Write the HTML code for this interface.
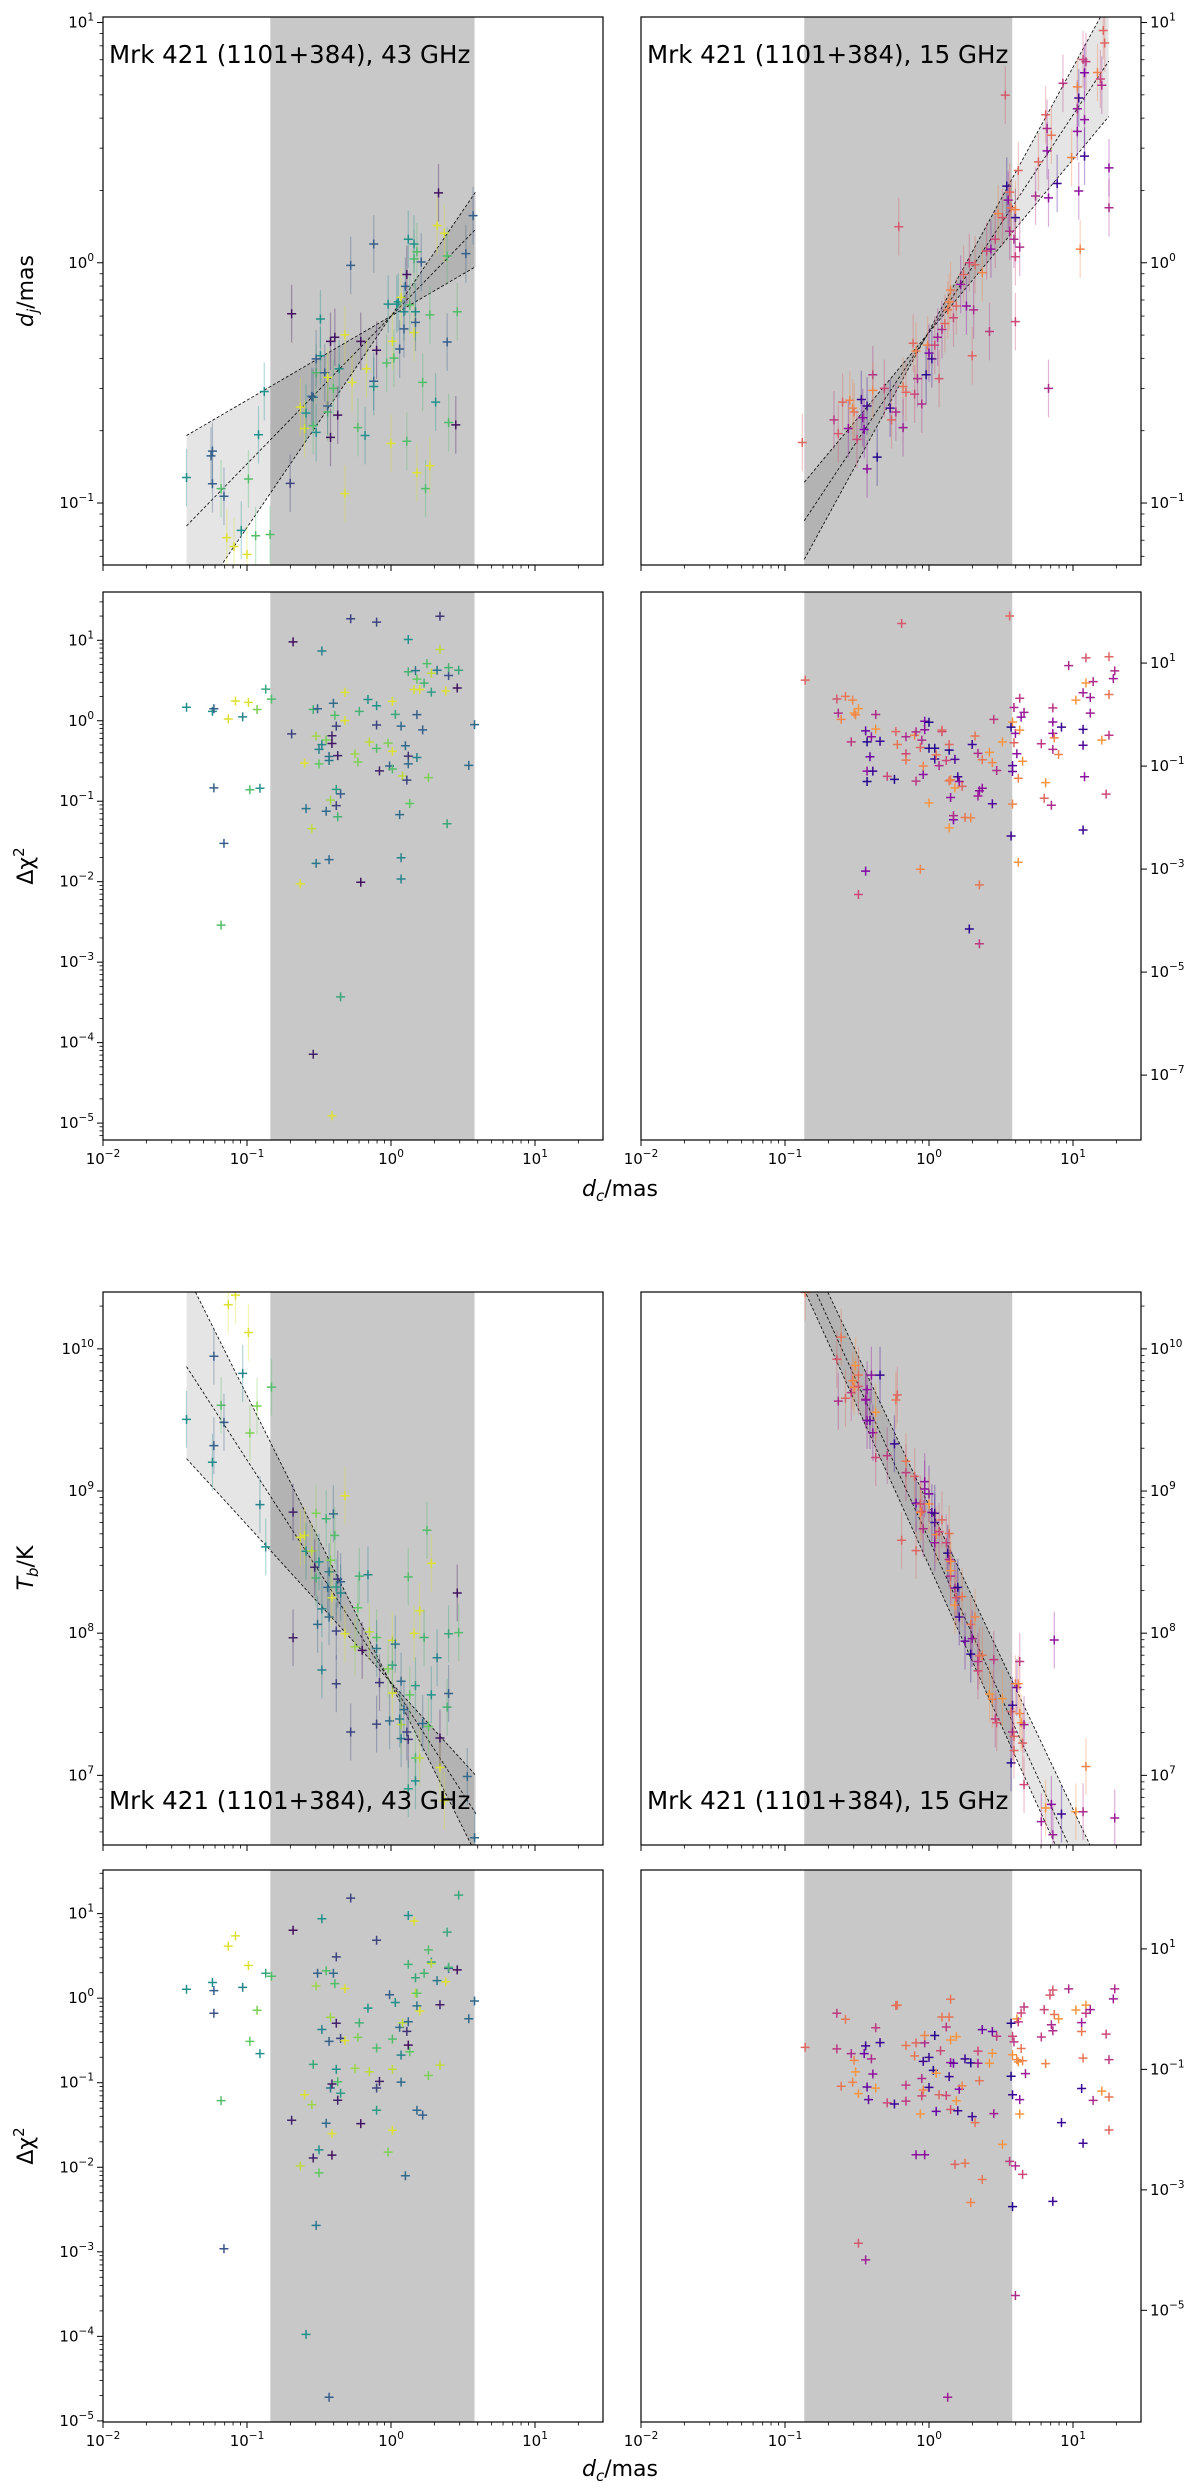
<!DOCTYPE html>
<html><head><meta charset="utf-8"><style>
html,body{margin:0;padding:0;background:#fff;}
svg{display:block;font-family:"DejaVu Sans","Liberation Sans",sans-serif;}
</style></head><body>
<svg id="fig" width="1200" height="2491" viewBox="0 0 1200 2491" xmlns="http://www.w3.org/2000/svg"></svg>
<script>
// ---------- DATA (log10 values) ----------
// Row 1 left: 43 GHz, d_j vs d_c
const r1lLogDc=[-1.42,-1.25,-1.24,-1.24,-1.18,-1.16,-1.14,-1.09,-1.04,-1.00,-0.99,-0.94,-0.92,-0.88,-0.84,-0.69,-0.70,-0.63,-0.60,-0.59,-0.55,-0.54,-0.54,-0.52,-0.52,-0.49,-0.49,-0.52,-0.46,-0.44,-0.44,-0.44,-0.42,-0.42,-0.40,-0.39,-0.37,-0.36,-0.32,-0.32,-0.28,-0.27,-0.23,-0.21,-0.18,-0.17,-0.12,-0.12,-0.12,-0.10,-0.03,-0.02,0.00,0.01,0.02,0.04,0.05,0.06,0.07,0.09,0.09,0.10,0.11,0.12,0.11,0.13,0.16,0.16,0.16,0.17,0.17,0.18,0.18,0.21,0.22,0.24,0.27,0.27,0.31,0.32,0.33,0.37,0.39,0.39,0.40,0.45,0.46,0.52,0.57];
const r1lLogDj=[-0.894,-0.804,-0.784,-0.92,-0.94,-0.972,-1.144,-1.181,-1.114,-1.214,-0.90,-1.136,-0.716,-0.536,-1.131,-0.212,-0.918,-0.601,-0.69,-0.626,-0.556,-0.56,-0.678,-0.706,-0.458,-0.387,-0.234,-0.40,-0.458,-0.621,-0.596,-0.477,-0.727,-0.327,-0.523,-0.31,-0.634,-0.441,-0.961,-0.30,-0.011,-0.498,-0.686,-0.327,-0.719,-0.441,0.078,-0.493,-0.515,-0.364,-0.417,-0.172,-0.752,-0.327,-0.397,-0.172,-0.163,-0.359,-0.144,-0.204,-0.275,-0.098,-0.049,0.098,-0.743,-0.175,0.016,0.078,-0.291,-0.204,-0.248,0.046,-0.874,0.003,-0.498,-0.94,-0.845,-0.217,-0.58,0.155,0.291,0.123,0.028,-0.33,-0.665,-0.675,-0.204,0.038,0.196];
const r1lColor=[.5,.3,.3,.3,.7,.3,.95,.95,.5,.95,.7,.7,.5,.5,.7,.05,.2,.95,.95,.5,.3,.3,.7,.5,.7,.5,.5,.3,.3,.7,.3,.95,.05,.05,.7,.05,.05,.5,.95,.95,.3,.95,.7,.05,.5,.95,.3,.3,.5,.05,.7,.5,.95,.95,.7,.5,.5,.3,.95,.5,.3,.3,.05,.5,.7,.7,.7,.5,.95,.5,.3,.7,.95,.3,.7,.7,.95,.7,.5,.95,.05,.95,.7,.3,.7,.05,.7,.3,.3];
// Row 1 right: 15 GHz, d_j vs d_c
const r1rLogDc=[-0.88,-0.66,-0.63,-0.60,-0.56,-0.55,-0.53,-0.52,-0.50,-0.47,-0.46,-0.45,-0.43,-0.43,-0.39,-0.39,-0.36,-0.31,-0.27,-0.26,-0.23,-0.18,-0.18,-0.16,-0.11,-0.10,-0.09,-0.08,-0.05,-0.02,-0.01,0.00,0.02,0.04,0.06,0.07,0.09,0.11,0.13,0.14,0.15,0.17,0.19,0.22,0.24,0.26,0.28,0.30,0.31,0.32,0.37,0.40,0.42,0.43,0.46,0.48,0.51,0.54,0.55,0.56,0.56,0.57,0.59,0.60,0.60,0.60,0.60,0.63,0.62,-0.21,0.53,0.74,0.76,0.81,0.82,0.82,0.83,0.83,0.85,0.89,0.93,0.99,1.03,1.03,1.04,1.04,1.05,1.07,1.08,1.09,1.08,1.08,1.17,1.19,1.20,1.21,1.22,1.25,1.25,1.03];
const r1rLogDj=[-0.748,-0.654,-0.711,-0.58,-0.69,-0.572,-0.605,-0.621,-0.735,-0.569,-0.645,-0.694,-0.596,-0.858,-0.466,-0.531,-0.809,-0.523,-0.605,-0.654,-0.621,-0.515,-0.686,-0.539,-0.335,-0.547,-0.368,-0.482,-0.588,-0.466,-0.343,-0.376,-0.40,-0.343,-0.31,-0.482,-0.278,-0.253,-0.196,-0.163,-0.114,-0.229,-0.18,-0.09,-0.049,-0.18,0,-0.387,-0.196,-0.008,-0.041,0.049,-0.286,0.057,0.098,0.204,0.188,0.319,0.261,0.294,0.131,0.229,0.098,0.188,0.221,0.025,-0.245,0.065,0.384,0.15,0.698,0.278,0.42,0.616,0.559,0.466,0.27,-0.523,0.531,0.33,0.747,0.438,0.641,0.547,0.686,0.299,0.057,0.846,0.791,0.837,0.596,0.444,0.792,0.765,0.739,0.967,0.915,0.395,0.229,0.732];
const r1rColor=[.6,.45,.55,.6,.3,.7,.7,.65,.5,.1,.3,.25,.1,.3,.4,.7,.05,.5,.1,.6,.4,.65,.35,.6,.6,.5,.7,.4,.4,.05,.7,.25,.1,.5,.35,.55,.4,.6,.65,.7,.7,.5,.6,.3,.6,.3,.5,.6,.4,.6,.7,.5,.45,.3,.5,.7,.55,.05,.3,.6,.4,.65,.4,.05,.7,.5,.5,.4,.6,.55,.55,.4,.6,.6,.4,.3,.3,.4,.65,.1,.45,.7,.3,.3,.1,.3,.7,.5,.25,.45,.3,.1,.7,.5,.4,.6,.6,.3,.4,.7];
// Row 2 left: 43 GHz, delta chi^2
const r2lLogDc=[-1.42,-1.24,-1.23,-1.23,-1.16,-1.18,-1.08,-1.13,-1.03,-0.99,-0.98,-0.93,-0.91,-0.87,-0.83,-0.68,-0.69,-0.63,-0.60,-0.59,-0.55,-0.54,-0.54,-0.52,-0.52,-0.51,-0.50,-0.50,-0.48,-0.48,-0.45,-0.45,-0.43,-0.43,-0.43,-0.42,-0.41,-0.41,-0.41,-0.40,-0.39,-0.38,-0.38,-0.38,-0.37,-0.37,-0.35,-0.35,-0.32,-0.32,-0.28,-0.25,-0.23,-0.22,-0.21,-0.16,-0.15,-0.10,-0.10,-0.10,-0.10,-0.08,-0.02,-0.01,0.01,0.01,0.01,0.03,0.06,0.07,0.07,0.07,0.08,0.10,0.11,0.12,0.12,0.12,0.12,0.13,0.16,0.17,0.18,0.18,0.18,0.20,0.22,0.23,0.25,0.26,0.28,0.28,0.32,0.34,0.34,0.38,0.39,0.40,0.40,0.46,0.47,0.54,0.58];
const r2lLogChi=[0.168,0.117,0.149,-0.834,-1.524,-2.54,0.246,0.021,0.048,0.228,-0.857,0.14,-0.839,0.393,0.269,0.98,-0.163,-2.025,-0.526,-1.092,-1.34,-4.145,0.14,-0.191,-1.772,0.149,-0.356,-0.536,0.867,-0.297,-0.237,-1.124,-1.726,-0.444,-0.494,-0.986,-4.908,-0.283,-0.186,0.218,0.067,-0.067,-1.055,-0.853,-1.193,-0.434,-0.908,-3.432,0.352,0.002,1.267,-0.411,-0.513,0.117,-2.007,0.264,-0.264,1.225,0.186,-0.053,-0.343,-0.623,-0.278,-0.563,0.241,-0.379,-0.6,0.08,-1.166,-0.067,-1.703,-1.966,-0.687,-0.31,-0.738,1.009,-0.439,-0.536,0.609,-1.028,0.389,0.623,0.076,-0.457,0.517,0.389,-0.113,0.467,0.71,-0.706,0.356,0.591,0.628,0.885,1.299,0.37,-1.28,0.563,0.66,0.407,0.628,-0.554,-0.048];
const r2lColor=[.5,.5,.3,.3,.3,.7,.95,.95,.45,.95,.7,.8,.5,.6,.7,.05,.2,.95,.95,.4,.9,.1,.65,.85,.4,.3,.45,.75,.45,.45,.8,.35,.35,.35,.4,.85,.95,.05,.1,.35,.7,.2,.2,.55,.65,.1,.3,.6,.95,.95,.2,.85,.8,.65,.05,.5,.9,.2,.5,.2,.7,.1,.8,.3,.95,.95,.7,.6,.35,.35,.45,.45,.9,.35,.2,.5,.15,.35,.65,.75,.95,.4,.3,.45,.75,.95,.3,.65,.7,.8,.55,.9,.4,.9,.15,.95,.6,.25,.65,.05,.6,.35,.35];
// Row 2 right: 15 GHz, delta chi^2
const r2rLogDc=[-0.86,-0.64,-0.63,-0.61,-0.58,-0.54,-0.53,-0.52,-0.51,-0.49,-0.49,-0.44,-0.44,-0.43,-0.43,-0.43,-0.41,-0.40,-0.39,-0.37,-0.37,-0.34,-0.29,-0.24,-0.23,-0.22,-0.19,-0.16,-0.16,-0.16,-0.10,-0.09,-0.09,-0.06,-0.06,-0.05,-0.04,-0.04,-0.03,-0.03,0.00,0.00,0.00,0.04,0.04,0.05,0.07,0.09,0.09,0.12,0.14,0.14,0.14,0.14,0.15,0.15,0.17,0.17,0.18,0.18,0.20,0.21,0.23,0.25,0.28,0.29,0.30,0.32,0.34,0.34,0.35,0.35,0.35,0.37,0.37,0.42,0.44,0.44,0.45,0.47,0.51,0.56,0.57,0.57,0.58,0.58,0.58,0.58,0.59,0.59,0.60,0.61,0.62,0.62,0.63,0.63,0.64,0.65,0.66,0.78,0.80,0.81,0.85,0.86,0.86,0.86,0.86,0.87,0.90,0.92,0.97,1.02,1.07,1.07,1.07,1.07,1.08,1.09,1.09,1.12,1.12,1.14,1.20,1.23,1.25,1.25,1.25,1.28,1.29];
const r2rLogChi=[0.669,0.303,0.029,-0.093,0.353,-0.531,0.281,0.029,-0.006,0.116,-3.493,-0.316,-3.04,-0.531,-1.30,-1.099,-0.819,-0.431,-1.099,0.001,-0.28,-0.517,-1.2,-1.257,-0.33,-0.582,1.769,-0.431,-0.761,-0.884,-0.402,-0.337,-1.293,-3.004,-0.639,-0.495,-1.164,-0.999,-0.294,-0.129,-0.15,-1.717,-0.653,-0.862,-0.653,-0.783,-0.991,-0.33,-0.301,-0.891,-0.689,-0.582,-1.286,-2.199,-1.265,-1.61,-2.041,-1.962,-0.869,-1.423,-1.207,-1.30,-1.394,-1.998,-4.162,-2.005,-0.582,-0.416,-0.754,-1.581,-4.45,-3.306,-1.48,-1.43,-0.876,-0.733,-0.934,-1.732,-0.093,-1.085,-0.531,1.913,-0.244,-2.357,-0.991,-1.106,-0.143,-1.739,0.137,-0.546,-0.366,-0.761,-1.236,-2.868,0.317,-0.301,-0.05,-0.905,0.044,-0.567,-1.624,-1.322,-1.761,0.13,-0.143,-0.366,-0.675,-0.452,-0.776,-0.244,0.95,0.281,0.425,-0.287,-0.596,-2.242,-1.207,0.612,1.101,0.331,0.029,0.641,-0.495,-1.545,1.122,0.389,-0.402,0.698,0.849];
const r2rColor=[.6,.55,.4,.7,.65,.45,.7,.75,.7,.75,.5,.2,.25,.05,.05,.3,.2,.3,.1,.4,.75,.1,.5,.05,.6,.65,.55,.4,.5,.65,.7,.4,.45,.7,.6,.4,.3,.7,.3,.25,.05,.75,.05,.1,.05,.65,.4,.5,.6,.5,.05,.6,.65,.75,.7,.3,.25,.4,.15,.75,.1,.3,.6,.65,.05,.7,.1,.65,.4,.35,.45,.65,.3,.3,.65,.75,.7,.15,.45,.4,.75,.6,.05,.1,.15,.2,.75,.7,.4,.6,.3,.3,.7,.75,.45,.75,.3,.75,.35,.45,.6,.75,.4,.45,.3,.3,.4,.7,.7,.1,.4,.75,.35,.1,.15,.1,.3,.75,.55,.35,.35,.4,.75,.5,.6,.65,.45,.35,.4];
// Row 3 left: 43 GHz, T_b vs d_c
const r3lLogDc=[-1.42,-1.24,-1.23,-1.23,-1.18,-1.16,-1.13,-1.08,-1.03,-0.99,-0.98,-0.93,-0.91,-0.87,-0.83,-0.68,-0.68,-0.63,-0.60,-0.59,-0.55,-0.53,-0.52,-0.52,-0.51,-0.50,-0.48,-0.48,-0.45,-0.44,-0.43,-0.43,-0.42,-0.41,-0.40,-0.39,-0.38,-0.38,-0.38,-0.37,-0.35,-0.35,-0.32,-0.32,-0.28,-0.25,-0.23,-0.22,-0.20,-0.16,-0.15,-0.10,-0.10,-0.10,-0.08,-0.02,-0.01,0.01,0.01,0.01,0.03,0.06,0.07,0.07,0.07,0.09,0.11,0.12,0.12,0.12,0.13,0.16,0.17,0.17,0.17,0.20,0.20,0.22,0.23,0.25,0.26,0.28,0.28,0.32,0.34,0.34,0.39,0.40,0.40,0.46,0.47,0.53,0.58,0.37];
const r3lLogTb=[9.504,9.202,9.948,9.319,9.603,9.483,10.31,10.378,9.828,10.115,9.408,9.598,8.904,8.607,9.731,8.852,7.968,8.675,8.688,8.576,8.578,8.464,8.844,8.388,8.062,8.502,8.171,7.741,8.805,8.322,8.432,8.114,8.513,8.249,8.839,8.688,7.644,8.015,8.325,8.38,8.362,8.283,8.967,7.996,7.305,7.905,8.179,8.401,7.879,8.411,8.009,7.36,7.97,7.892,7.652,7.749,7.383,7.949,7.579,7.775,7.923,7.396,7.357,7.258,7.662,7.462,7.305,7.253,8.396,6.906,7.566,7.999,7.122,7.631,6.961,8.158,7.122,7.365,7.97,8.724,7.344,7.566,8.492,7.827,7.055,7.263,7.48,7.996,7.576,8.283,8.004,6.992,6.561,6.822];
const r3lColor=[.5,.5,.3,.3,.7,.3,.95,.95,.45,.95,.8,.8,.45,.5,.7,.1,.1,.95,.95,.5,.9,.1,.8,.65,.35,.5,.45,.45,.65,.35,.4,.35,.8,.95,.35,.7,.2,.2,.55,.15,.3,.45,.95,.95,.2,.85,.75,.65,.05,.45,.9,.2,.75,.4,.15,.8,.35,.95,.95,.6,.4,.4,.9,.4,.35,.35,.2,.15,.7,.55,.75,.95,.75,.55,.5,.95,.9,.35,.65,.7,.75,.5,.95,.45,.95,.05,.65,.6,.3,.05,.7,.35,.35,.95];
// Row 3 right: 15 GHz, T_b vs d_c
const r3rLogDc=[-0.86,-0.64,-0.63,-0.61,-0.58,-0.54,-0.53,-0.52,-0.51,-0.49,-0.49,-0.44,-0.44,-0.43,-0.43,-0.41,-0.40,-0.39,-0.37,-0.37,-0.34,-0.29,-0.24,-0.23,-0.22,-0.19,-0.16,-0.16,-0.10,-0.09,-0.09,-0.06,-0.06,-0.05,-0.04,-0.03,-0.03,0.00,0.00,0.02,0.04,0.04,0.04,0.05,0.07,0.09,0.12,0.13,0.14,0.14,0.15,0.15,0.15,0.18,0.18,0.19,0.20,0.21,0.23,0.25,0.29,0.29,0.30,0.32,0.34,0.34,0.35,0.37,0.42,0.44,0.45,0.46,0.47,0.51,0.57,0.57,0.58,0.58,0.59,0.59,0.60,0.61,0.62,0.63,0.63,0.64,0.65,0.66,0.66,0.78,0.81,0.85,0.86,0.87,0.92,1.02,1.07,1.09,1.29];
const r3rLogTb=[10.397,9.927,9.632,10.083,9.653,9.692,9.776,9.731,9.883,9.815,9.736,9.645,9.64,9.713,9.496,9.496,9.815,9.41,9.236,9.554,9.815,9.249,9.332,9.64,9.676,8.654,9.129,9.209,9.103,8.581,8.915,8.909,8.849,8.857,8.735,9.066,9.014,8.98,8.909,8.849,8.844,8.779,8.636,8.693,8.714,8.797,8.636,8.563,8.701,8.518,8.401,8.505,8.44,8.317,8.197,8.249,8.322,8.114,8.257,7.944,8.062,7.853,7.962,8.114,7.801,7.735,7.84,7.845,7.571,7.535,7.814,7.396,7.37,7.54,7.088,7.448,7.305,7.493,7.175,7.274,7.644,7.618,7.644,7.801,7.435,7.37,7.227,7.357,6.935,6.674,6.77,6.796,6.582,7.952,6.728,6.744,6.744,7.062,6.7];
const r3rColor=[.65,.55,.4,.65,.6,.45,.7,.7,.75,.65,.55,.4,.3,.3,.3,.2,.3,.3,.5,.75,.1,.45,.1,.65,.6,.6,.45,.65,.6,.6,.2,.5,.75,.6,.4,.3,.3,.2,.75,.2,.1,.1,.3,.7,.5,.6,.5,.05,.65,.4,.4,.7,.75,.3,.75,.55,.05,.1,.65,.2,.65,.05,.3,.7,.4,.5,.6,.65,.75,.7,.45,.45,.55,.75,.05,.6,.4,.1,.6,.6,.65,.2,.75,.45,.7,.75,.6,.35,.5,.35,.75,.3,.35,.3,.1,.75,.4,.7,.35];
// Row 4 left: 43 GHz, delta chi^2 (T_b fit)
const r4lLogDc=[-1.42,-1.24,-1.23,-1.23,-1.18,-1.16,-1.13,-1.08,-1.03,-0.99,-0.98,-0.93,-0.91,-0.87,-0.83,-0.68,-0.69,-0.63,-0.60,-0.59,-0.55,-0.54,-0.54,-0.52,-0.52,-0.51,-0.50,-0.50,-0.48,-0.48,-0.45,-0.45,-0.43,-0.43,-0.42,-0.42,-0.41,-0.41,-0.41,-0.40,-0.39,-0.38,-0.38,-0.38,-0.37,-0.37,-0.35,-0.35,-0.32,-0.32,-0.28,-0.25,-0.23,-0.22,-0.21,-0.16,-0.15,-0.10,-0.10,-0.10,-0.10,-0.08,-0.02,-0.01,0.01,0.01,0.01,0.03,0.06,0.07,0.07,0.08,0.10,0.11,0.12,0.12,0.12,0.12,0.13,0.16,0.17,0.18,0.18,0.17,0.18,0.20,0.22,0.23,0.26,0.26,0.28,0.28,0.32,0.34,0.34,0.38,0.39,0.40,0.40,0.46,0.47,0.54,0.58];
const r4lLogChi=[0.106,0.185,0.089,-0.178,-1.212,-2.964,0.615,0.737,0.128,0.387,-0.511,-0.143,-0.656,0.295,0.26,0.803,-1.444,-1.983,-1.142,-3.976,-1.26,-1.891,-0.783,0.146,-2.688,0.295,-1.795,-2.066,0.939,-0.371,0.325,-1.479,-4.72,-0.511,-1.063,-0.226,-1.602,-1.856,-1.015,0.295,0.172,0.488,-0.297,-0.84,-0.989,-1.208,-0.476,-1.124,0.115,-0.502,1.184,-0.831,-0.463,-0.292,-1.484,-0.117,-0.87,0.685,-1.063,-0.59,-1.326,-0.984,-1.821,0.041,-1.562,-0.84,-0.485,-0.051,-0.345,-0.673,-0.993,-0.292,-2.101,-0.393,-0.555,-0.279,0.978,0.4,-0.634,0.912,0.242,-0.091,-1.326,0.058,0.058,-0.152,-1.383,0.295,0.571,-0.914,0.426,0.409,0.207,-0.078,-0.792,0.194,0.781,0.352,0.365,0.334,1.219,-0.244,-0.034];
const r4lColor=[.5,.5,.3,.25,.7,.25,.95,.95,.45,.95,.75,.8,.5,.6,.7,.05,.1,.9,.95,.5,.85,.1,.6,.85,.4,.3,.5,.75,.5,.45,.7,.35,.3,.3,.4,.85,.95,.05,.1,.35,.7,.2,.1,.5,.7,.1,.2,.55,.95,.95,.2,.85,.8,.65,.05,.5,.9,.2,.2,.7,.55,.1,.8,.3,.95,.9,.7,.5,.35,.45,.35,.9,.35,.15,.05,.35,.5,.65,.75,.95,.6,.4,.35,.9,.75,.95,.3,.65,.7,.8,.55,.9,.4,.1,.9,.95,.6,.25,.65,.05,.6,.35,.35];
// Row 4 right: 15 GHz, delta chi^2 (T_b fit)
const r4rLogDc=[-0.86,-0.64,-0.64,-0.61,-0.58,-0.54,-0.53,-0.52,-0.51,-0.49,-0.49,-0.44,-0.45,-0.44,-0.43,-0.42,-0.40,-0.39,-0.37,-0.37,-0.34,-0.29,-0.24,-0.23,-0.22,-0.16,-0.16,-0.16,-0.10,-0.09,-0.09,-0.06,-0.05,-0.05,-0.04,-0.04,-0.03,-0.03,-0.03,0.00,0.00,0.03,0.04,0.05,0.05,0.07,0.08,0.09,0.12,0.12,0.14,0.14,0.15,0.15,0.15,0.15,0.17,0.18,0.19,0.19,0.20,0.21,0.23,0.25,0.25,0.29,0.29,0.30,0.32,0.34,0.34,0.35,0.37,0.37,0.42,0.44,0.44,0.45,0.47,0.51,0.56,0.57,0.57,0.58,0.58,0.58,0.58,0.59,0.60,0.60,0.61,0.61,0.62,0.62,0.63,0.63,0.64,0.64,0.65,0.65,0.66,0.67,0.13,0.78,0.80,0.81,0.84,0.85,0.86,0.86,0.86,0.87,0.90,0.92,0.97,1.02,1.06,1.06,1.06,1.07,1.07,1.09,1.09,1.12,1.14,1.20,1.23,1.25,1.25,1.25,1.28,1.29];
const r4rLogChi=[-0.635,-0.069,-0.66,-1.28,-0.168,-0.739,-1.213,-0.85,-1.041,-1.403,-3.886,-0.61,-0.739,-4.163,-1.293,-1.502,-0.825,-1.077,-0.309,-1.311,-0.555,-1.557,-1.575,0.06,0.066,-0.604,-1.262,-1.526,-0.776,-0.561,-2.417,-1.741,-1.44,-1.151,-1.342,-0.868,-2.417,-0.561,-0.438,-0.801,-1.299,-1.016,-0.438,-1.065,-1.698,-1.422,-0.69,-0.131,-1.434,-0.297,-1.12,-0.131,0.164,-1.667,-0.512,-0.887,-0.899,-2.577,-1.52,-0.457,-1.686,-1.329,-1.274,-2.559,-0.825,-3.21,-0.893,-1.784,-1.883,-0.696,-0.899,-1.188,-0.34,-2.829,-0.899,-0.371,-0.733,-1.735,-0.451,-2.245,-2.528,-0.235,-1.114,-0.758,-1.422,-3.278,-0.451,-0.543,-2.602,-4.753,-0.162,-0.838,-0.211,-0.875,-1.502,-1.741,-0.653,-0.063,-0.856,-2.743,0.035,-1.071,-6.443,-0.463,-0.008,-0.905,0.232,-0.26,-0.358,0.318,-3.192,-0.088,-0.162,-1.883,0.336,-0.014,-0.223,-0.371,-1.317,-2.227,-0.813,0.066,-0.069,-0.008,-1.514,-1.36,-0.414,-0.838,-1.459,-2.006,0.17,0.336];
const r4rColor=[.6,.45,.45,.65,.65,.4,.7,.7,.75,.75,.55,.1,.2,.35,.2,.2,.4,.3,.45,.75,.1,.5,.1,.6,.65,.65,.45,.45,.65,.6,.3,.75,.5,.4,.7,.1,.3,.4,.7,.1,.1,.05,.05,.75,.2,.6,.5,.65,.5,.45,.1,.65,.65,.55,.75,.3,.2,.6,.75,.75,.1,.25,.7,.65,.1,.7,.05,.1,.65,.5,.35,.65,.2,.65,.75,.2,.75,.35,.45,.75,.45,.05,.05,.75,.1,.05,.5,.45,.4,.4,.75,.7,.45,.75,.3,.75,.65,.5,.7,.5,.45,.35,.35,.45,.5,.7,.55,.4,.4,.55,.1,.65,.75,.1,.4,.75,.35,.65,.1,.1,.65,.75,.45,.35,.4,.75,.5,.45,.65,.6,.35,.4];
// Power-law fits: slopes and log10 normalisation at d_c = 1 mas
const r1lFitSlope=[0.35,0.615,0.88], r1lFitNorm=[-0.222,-0.222,-0.222];
const r1rFitSlope=[0.72,0.905,1.098], r1rFitNorm=[-0.29,-0.29,-0.284];
const r3lFitSlope=[-1.109,-1.565,-2.03], r3lFitNorm=[7.653,7.653,7.643];
const r3rFitSlope=[-2.24,-2.215,-2.136], r3rFitNorm=[8.476,8.659,8.898];
// fit ranges and core-region bands (log10 d_c)
const fitRange43=[-1.42,0.59], fitRange15=[-0.866,1.248];
const band43=[-0.838,0.58], band15=[-0.866,0.578];

// ---------- RENDERING ----------
const NS='http://www.w3.org/2000/svg';
const svg=document.getElementById('fig');
function mk(tag,attrs,parent){const e=document.createElementNS(NS,tag);for(const k in attrs)e.setAttribute(k,attrs[k]);(parent||svg).appendChild(e);return e;}
function lerpStops(stops,t){t=Math.max(0,Math.min(1,t));const n=stops.length-1;const i=Math.min(n-1,Math.floor(t*n));const f=t*n-i;const a=stops[i],b=stops[i+1];return 'rgb('+[0,1,2].map(k=>Math.round(a[k]+(b[k]-a[k])*f)).join(',')+')';}
const VIR=[[68,1,84],[59,82,139],[33,145,140],[94,201,98],[253,231,37]];
const PLA=[[13,8,135],[126,3,168],[204,71,120],[248,149,64],[240,249,33]];
const XMIN=-2, DEC=144;
function makeAxes(g){return {x:v=>g.x0+(v-XMIN)*DEC, y:v=>g.y0+(g.ymax-v)/(g.ymax-g.ymin)*g.h};}
const SUP={'-':'−'};
function powLabel(parent,x,y,exp,anchor,name){
  const t=mk('text',{x:x,y:y,'font-size':15,'text-anchor':anchor,fill:'#000'},parent);
  
  
  const a=mk('tspan',{},t);a.textContent='10';
  const b=mk('tspan',{dy:-7,'font-size':10.5},t);b.textContent=String(exp).replace('-','−');
  return t;
}
let clipId=0;
function panel(name,g,xs,ys,cs,cmap,opts){
  const A=makeAxes(g);
  const grp=mk('g',{});
  
  
  const cid='clip'+(clipId++);
  const cp=mk('clipPath',{id:cid},grp);mk('rect',{x:g.x0,y:g.y0,width:g.w,height:g.h},cp);
  const inner=mk('g',{'clip-path':'url(#'+cid+')'},grp);
  // core band
  const band=mk('rect',{x:A.x(opts.band[0]),y:g.y0,width:A.x(opts.band[1])-A.x(opts.band[0]),height:g.h,fill:'#c8c8c8'},inner);
  
  
  // fit band
  if(opts.slopes){
    const N=60,r=opts.fitRange,up=[],lo=[];
    for(let i=0;i<=N;i++){const lx=r[0]+(r[1]-r[0])*i/N;const vals=opts.slopes.map((s,k)=>opts.norms[k]+s*lx);up.push([A.x(lx),A.y(Math.max(...vals))]);lo.push([A.x(lx),A.y(Math.min(...vals))]);}
    const pts=up.concat(lo.reverse()).map(p=>p[0].toFixed(1)+','+p[1].toFixed(1)).join(' ');
    const fb=mk('polygon',{points:pts,fill:'rgba(0,0,0,0.1)'},inner);
    
    
    opts.slopes.forEach((s,k)=>{
      const l=mk('line',{x1:A.x(r[0]),y1:A.y(opts.norms[k]+s*r[0]),x2:A.x(r[1]),y2:A.y(opts.norms[k]+s*r[1]),stroke:'#000','stroke-width':0.8,'stroke-dasharray':'3,2'},inner);
      
      
    });
  }
  // points
  for(let i=0;i<xs.length;i++){
    const px=A.x(xs[i]),py=A.y(ys[i]),col=lerpStops(cmap,cs[i]);
    const pg=mk('g',{},inner);
    
    
    if(opts.err){mk('line',{x1:px,y1:A.y(ys[i]+opts.err),x2:px,y2:A.y(ys[i]-opts.err),stroke:col,'stroke-width':1.2,'stroke-opacity':0.35},pg);}
    mk('path',{d:`M${px-4.5},${py}h9M${px},${py-4.5}v9`,stroke:col,'stroke-width':1.5},pg);
  }
  // frame
  const fr=mk('rect',{x:g.x0,y:g.y0,width:g.w,height:g.h,fill:'none',stroke:'#000','stroke-width':1.2},grp);
  
  
  // x ticks
  const xb=g.y0+g.h;
  for(let d=-2;d<=1;d++){for(let m=1;m<10;m++){const lv=d+Math.log10(m);if(lv>g.xmaxLog)break;const x=A.x(lv);
    mk('line',{x1:x,y1:xb,x2:x,y2:xb+(m===1?6:3.5),stroke:'#000','stroke-width':m===1?1:0.8},grp);
    if(m===1&&opts.xlabels)powLabel(grp,x,xb+24,d,'middle','x-tick-label');}}
  // y ticks
  const right=opts.side==='right';const ax=right?g.x0+g.w:g.x0;const dir=right?1:-1;
  const lo=Math.floor(g.ymin),hi=Math.ceil(g.ymax);
  for(let d=lo;d<=hi;d++){
    if(d>=g.ymin&&d<=g.ymax&&opts.yt.includes(d)){const y=A.y(d);mk('line',{x1:ax,y1:y,x2:ax+dir*6,y2:y,stroke:'#000','stroke-width':1},grp);
      powLabel(grp,ax+dir*9,y+5,d,right?'start':'end','y-tick-label');}
    if(opts.minor){for(let m=2;m<10;m++){const lv=d+Math.log10(m);if(lv<g.ymin||lv>g.ymax)continue;const y=A.y(lv);mk('line',{x1:ax,y1:y,x2:ax+dir*3.5,y2:y,stroke:'#000','stroke-width':0.8},grp);}}
  }
  if(opts.title){const t=mk('text',{x:g.x0+6,y:opts.titleY,'font-size':24.5,fill:'#000'},grp);t.textContent=opts.title;
    
    }
}
const XMAXLOG=-2+500/144;
function geo(x0,y0,h,ymin,ymax){return {x0:x0,y0:y0,w:500,h:h,ymin:ymin,ymax:ymax,xmaxLog:XMAXLOG};}
const L=103,R=641;
panel('dj-43ghz-panel',geo(L,17,548,-1.258,1.023),r1lLogDc,r1lLogDj,r1lColor,VIR,{band:band43,slopes:r1lFitSlope,norms:r1lFitNorm,fitRange:fitRange43,err:0.12,side:'left',yt:[-1,0,1],minor:true,xlabels:false,title:'Mrk 421 (1101+384), 43 GHz',titleY:63});
panel('dj-15ghz-panel',geo(R,17,548,-1.258,1.023),r1rLogDc,r1rLogDj,r1rColor,PLA,{band:band15,slopes:r1rFitSlope,norms:r1rFitNorm,fitRange:fitRange15,err:0.12,side:'right',yt:[-1,0,1],minor:true,xlabels:false,title:'Mrk 421 (1101+384), 15 GHz',titleY:63});
panel('chi2-dj-43ghz-panel',geo(L,592,548,-5.21,1.6),r2lLogDc,r2lLogChi,r2lColor,VIR,{band:band43,side:'left',yt:[-5,-4,-3,-2,-1,0,1],minor:true,xlabels:true});
panel('chi2-dj-15ghz-panel',geo(R,592,548,-8.26,2.38),r2rLogDc,r2rLogChi,r2rColor,PLA,{band:band15,side:'right',yt:[1,-1,-3,-5,-7],minor:false,xlabels:true});
panel('tb-43ghz-panel',geo(L,1292,553,6.51,10.4),r3lLogDc,r3lLogTb,r3lColor,VIR,{band:band43,slopes:r3lFitSlope,norms:r3lFitNorm,fitRange:fitRange43,err:0.2,side:'left',yt:[7,8,9,10],minor:true,xlabels:false,title:'Mrk 421 (1101+384), 43 GHz',titleY:1809});
panel('tb-15ghz-panel',geo(R,1292,553,6.51,10.4),r3rLogDc,r3rLogTb,r3rColor,PLA,{band:band15,slopes:r3rFitSlope,norms:r3rFitNorm,fitRange:fitRange15,err:0.2,side:'right',yt:[7,8,9,10],minor:true,xlabels:false,title:'Mrk 421 (1101+384), 15 GHz',titleY:1809});
panel('chi2-tb-43ghz-panel',geo(L,1870,552,-5.013,1.516),r4lLogDc,r4lLogChi,r4lColor,VIR,{band:band43,side:'left',yt:[-5,-4,-3,-2,-1,0,1],minor:true,xlabels:true});
panel('chi2-tb-15ghz-panel',geo(R,1870,552,-6.854,2.31),r4rLogDc,r4rLogChi,r4rColor,PLA,{band:band15,side:'right',yt:[1,-1,-3,-5],minor:false,xlabels:true});

// axis labels
function axLabel(name,x,y,rot,parts){
  const t=mk('text',{x:x,y:y,'font-size':22,'text-anchor':'middle',fill:'#000',transform:rot?`rotate(-90 ${x} ${y})`:''});
  
  
  parts.forEach(p=>{const s=mk('tspan',p.a||{},t);s.textContent=p.t;});
}
axLabel('y-axis-title-dj',33,291,true,[{t:'d',a:{'font-style':'italic'}},{t:'j',a:{'font-style':'italic','font-size':15,dy:5}},{t:'/mas',a:{dy:-5}}]);
axLabel('y-axis-title-chi2',33,866,true,[{t:'Δχ'},{t:'2',a:{'font-size':15,dy:-9}}]);
axLabel('y-axis-title-tb',33,1568,true,[{t:'T',a:{'font-style':'italic'}},{t:'b',a:{'font-style':'italic','font-size':15,dy:5}},{t:'/K',a:{dy:-5}}]);
axLabel('y-axis-title-chi2-tb',33,2146,true,[{t:'Δχ'},{t:'2',a:{'font-size':15,dy:-9}}]);
axLabel('x-axis-title-top',620,1196,false,[{t:'d',a:{'font-style':'italic'}},{t:'c',a:{'font-style':'italic','font-size':15,dy:5}},{t:'/mas',a:{dy:-5}}]);
axLabel('x-axis-title-bottom',620,2476,false,[{t:'d',a:{'font-style':'italic'}},{t:'c',a:{'font-style':'italic','font-size':15,dy:5}},{t:'/mas',a:{dy:-5}}]);
</script>
</body></html>
